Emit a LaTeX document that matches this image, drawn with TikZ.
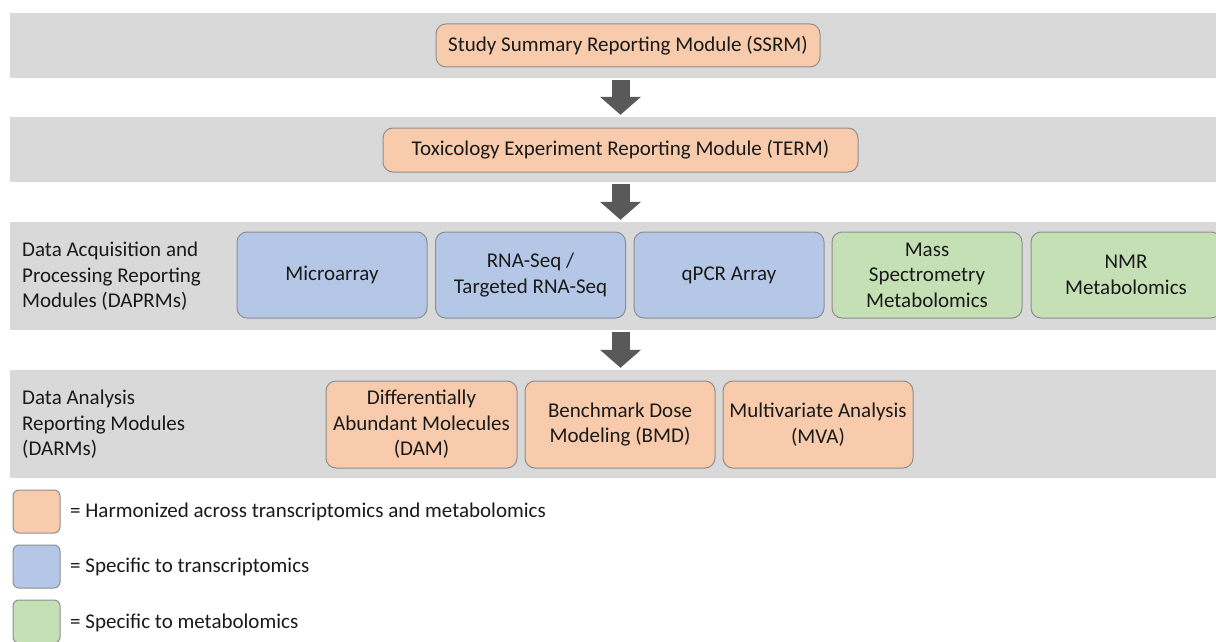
\documentclass[tikz,border=0pt]{standalone}
\usepackage{fontspec}
\setmainfont{Carlito}
\usetikzlibrary{arrows.meta}
\definecolor{bandgray}{HTML}{D9D9D9}
\definecolor{orfill}{HTML}{F8CBAD}
\definecolor{blfill}{HTML}{B4C7E7}
\definecolor{grfill}{HTML}{C5E0B4}
\definecolor{edgegray}{HTML}{8E8E8E}
\definecolor{arrowgray}{HTML}{595959}
\definecolor{txt}{HTML}{1A1A1A}
\tikzset{
  band/.style={fill=bandgray, draw=none, inner sep=0pt},
  modbox/.style={draw=edgegray, line width=1pt, rounded corners=10pt, inner sep=0pt, align=center, text=txt,
    font=\fontsize{21}{25.5}\selectfont},
  orbox/.style={modbox, fill=orfill},
  blbox/.style={modbox, fill=blfill},
  grbox/.style={modbox, fill=grfill},
  wide/.style={minimum width=190pt, minimum height=86pt},
  lbl/.style={anchor=west, align=left, inner sep=0pt, text=txt, font=\fontsize{21}{25.5}\selectfont},
  legsq/.style={draw=edgegray, line width=1pt, rounded corners=6pt, inner sep=0pt, minimum width=47pt, minimum height=43pt},
  bigarrow/.style={draw=arrowgray, line width=18pt, -{Triangle[width=40pt,length=18pt]}}
}
\begin{document}
\begin{tikzpicture}[x=1pt,y=-1pt]
\useasboundingbox (0,0) rectangle (1216,642);
% bands
\node[band, minimum width=1206pt, minimum height=65pt] (b1) at (613,45.5) {};
\node[band, minimum width=1206pt, minimum height=65pt] (b2) at (613,149.5) {};
\node[band, minimum width=1206pt, minimum height=108pt] (b3) at (613,276) {};
\node[band, minimum width=1206pt, minimum height=108pt] (b4) at (613,424) {};
% top modules
\node[orbox, minimum width=384pt, minimum height=43pt] (ssrm) at (628,45.5) {Study Summary Reporting Module (SSRM)};
\node[orbox, minimum width=475pt, minimum height=44pt] (term) at (620.5,150) {Toxicology Experiment Reporting Module (TERM)};
% DAPRMs
\node[lbl] (l3) at (22,276.5) {Data Acquisition and\\Processing Reporting\\Modules (DAPRMs)};
\node[blbox, wide] (micro) at (332,275) {Microarray};
\node[blbox, wide] (rnaseq) at (530.5,275) {RNA-Seq /\\Targeted RNA-Seq};
\node[blbox, wide] (qpcr) at (729,275) {qPCR Array};
\node[grbox, wide] (ms) at (927,275) {Mass\\Spectrometry\\Metabolomics};
\node[grbox, wide] (nmr) at (1126,275) {NMR\\Metabolomics};
% DARMs
\node[lbl] (l4) at (22,424.5) {Data Analysis\\Reporting Modules\\(DARMs)};
\node[orbox, minimum width=191pt, minimum height=87pt] (dam) at (421.5,424.5) {Differentially\\Abundant Molecules\\(DAM)};
\node[orbox, minimum width=190pt, minimum height=87pt] (bmd) at (620,424.5) {Benchmark Dose\\Modeling (BMD)};
\node[orbox, minimum width=190pt, minimum height=87pt] (mva) at (818,424.5) {Multivariate Analysis\\(MVA)};
% arrows
\draw[bigarrow] ([yshift=-2pt]b1.south -| term) -- ([yshift=2pt]b2.north -| term);
\draw[bigarrow] ([yshift=-2pt]b2.south -| term) -- ([yshift=2pt]b3.north -| term);
\draw[bigarrow] ([yshift=-2pt]b3.south -| term) -- ([yshift=2pt]b4.north -| term);
% legend
\node[legsq, fill=orfill] (lg1) at (36.5,511.5) {};
\node[legsq, fill=blfill] (lg2) at (36.5,566.5) {};
\node[legsq, fill=grfill] (lg3) at (36.5,621.5) {};
\node[lbl] (t1) at (70,511.5) {= Harmonized across transcriptomics and metabolomics};
\node[lbl] (t2) at (70,567) {= Specific to transcriptomics};
\node[lbl] (t3) at (70,623) {= Specific to metabolomics};
\end{tikzpicture}
\end{document}
